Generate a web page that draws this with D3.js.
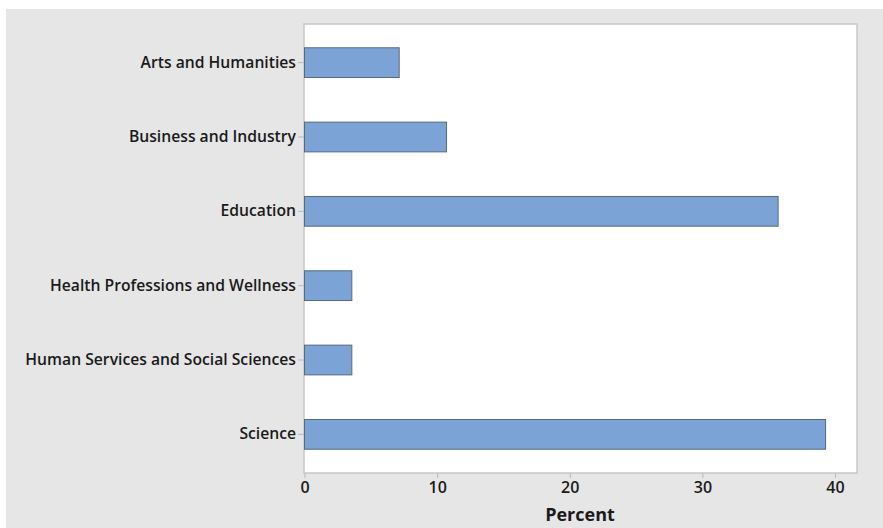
<!DOCTYPE html>
<html>
<head>
<meta charset="utf-8">
<script src="https://cdn.jsdelivr.net/npm/d3@7"></script>
<style>
  body { margin: 0; background: #fff; }
  text { font-family: "Open Sans", sans-serif; fill: #1a1a1a; }
</style>
</head>
<body>
<div id="chart"></div>
<script>
// counts out of 28 respondents, shown as percent
var categories = ["Arts and Humanities", "Business and Industry", "Education",
  "Health Professions and Wellness", "Human Services and Social Sciences", "Science"]
var percents = [7.14, 10.71, 35.71, 3.57, 3.57, 39.29]
var xTicks = [0, 10, 20, 30, 40]

var W = 883, H = 528
var plot = {left: 304, top: 24, right: 857, bottom: 473}

var svg = d3.select("#chart").append("svg").attr("width", W).attr("height", H)

svg.append("rect").attr("x", 6).attr("y", 9).attr("width", W - 6).attr("height", H - 9)
  .attr("fill", "#e6e6e6")
svg.append("rect").attr("x", plot.left).attr("y", plot.top)
  .attr("width", plot.right - plot.left).attr("height", plot.bottom - plot.top)
  .attr("fill", "#fff").attr("stroke", "#c8c8c8").attr("stroke-width", 1.5)

var x = d3.scaleLinear().domain([0, 40]).range([plot.left + 0.5, 835])
var y = d3.scaleBand().domain(categories).range([plot.top, plot.bottom])
  .paddingInner(0.6).paddingOuter(0.32)

var data = categories.map((c, i) => ({cat: c, val: percents[i]}))

svg.selectAll("rect.bar")
  .data(data)
  .enter()
    .append("rect")
    .attr("class", "bar")
    .attr("x", x(0))
    .attr("y", d => y(d.cat))
    .attr("width", d => x(d.val) - x(0))
    .attr("height", y.bandwidth())
    .attr("fill", "#7ca3d5")
    .attr("stroke", "#58687e")
    .attr("stroke-width", 1)

var xAxis = svg.append("g").attr("transform", "translate(0," + plot.bottom + ")")
  .call(d3.axisBottom(x).tickValues(xTicks).tickSize(5).tickPadding(4))
xAxis.select(".domain").remove()
xAxis.selectAll("line").attr("stroke", "#b8b8b8")
xAxis.selectAll("text").style("font-size", "16px").style("font-weight", 600)

var yAxis = svg.append("g").attr("transform", "translate(" + plot.left + ",0)")
  .call(d3.axisLeft(y).tickSize(6).tickPadding(2))
yAxis.select(".domain").remove()
yAxis.selectAll("line").attr("stroke", "#b8b8b8")
yAxis.selectAll("text").style("font-size", "15.7px").style("font-weight", 600)

svg.append("text").attr("x", 580).attr("y", 521).attr("text-anchor", "middle")
  .style("font-size", "18px").style("font-weight", 700).text("Percent")
</script>
</body>
</html>
